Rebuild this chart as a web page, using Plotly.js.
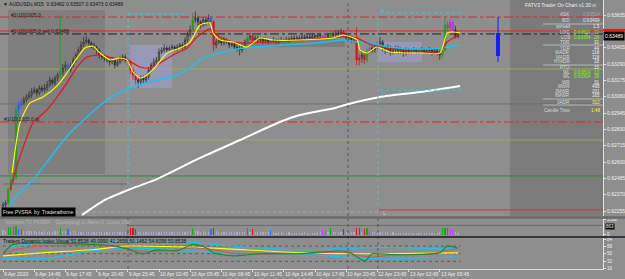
<!DOCTYPE html>
<html><head><meta charset="utf-8">
<script src="https://cdn.plot.ly/plotly-3.0.1.min.js"></script>
<style>html,body{margin:0;padding:0;background:#8e8e8e;}#chart{width:625px;height:279px;}</style>
</head><body><div id="chart"></div>
<script>
// ---------- DATA ----------
const openP = [0.62290,0.62298,0.62312,0.62403,0.62474,0.62488,0.62967,0.63002,0.63016,0.63037,
0.63058,0.63072,0.63093,0.63107,0.63086,0.63122,0.63107,0.63122,0.63143,0.63178,
0.63157,0.63192,0.63213,0.63234,0.63262,0.63283,0.63248,0.63276,0.63319,0.63354,
0.63389,0.63424,0.63445,0.63459,0.63438,0.63424,0.63410,0.63389,0.63354,0.63340,
0.63333,0.63319,0.63305,0.63319,0.63283,0.63305,0.63333,0.63340,0.63319,0.63305,
0.63248,0.63213,0.63178,0.63164,0.63192,0.63178,0.63199,0.63248,0.63283,0.63305,
0.63319,0.63375,0.63389,0.63403,0.63389,0.63403,0.63410,0.63396,0.63410,0.63424,
0.63410,0.63459,0.63495,0.63530,0.63600,0.63614,0.63586,0.63565,0.63600,0.63586,
0.63614,0.63586,0.63424,0.63445,0.63459,0.63438,0.63459,0.63445,0.63424,0.63431,
0.63410,0.63403,0.63389,0.63417,0.63445,0.63473,0.63488,0.63459,0.63473,0.63459,
0.63466,0.63452,0.63459,0.63445,0.63452,0.63459,0.63445,0.63452,0.63459,0.63452,
0.63466,0.63459,0.63473,0.63466,0.63473,0.63466,0.63481,0.63473,0.63481,0.63473,
0.63488,0.63481,0.63495,0.63488,0.63481,0.63495,0.63488,0.63502,0.63495,0.63509,
0.63502,0.63516,0.63495,0.63473,0.63481,0.63459,0.63459,0.63319,0.63333,0.63354,
0.63319,0.63375,0.63403,0.63389,0.63410,0.63424,0.63445,0.63403,0.63389,0.63410,
0.63375,0.63389,0.63403,0.63382,0.63389,0.63368,0.63389,0.63375,0.63382,0.63389,
0.63375,0.63382,0.63389,0.63375,0.63382,0.63389,0.63375,0.63382,0.63375,0.63354,
0.63389,0.63565,0.63544,0.63586,0.63530,0.63482];
const highP = [0.62320,0.62330,0.62420,0.62490,0.62530,0.62990,0.63030,0.63050,0.63060,0.63080,
0.63100,0.63120,0.63130,0.63120,0.63140,0.63140,0.63150,0.63170,0.63200,0.63190,
0.63210,0.63230,0.63635,0.63290,0.63310,0.63300,0.63300,0.63340,0.63370,0.63410,
0.63450,0.63480,0.63490,0.63470,0.63450,0.63440,0.63420,0.63400,0.63370,0.63360,
0.63350,0.63330,0.63340,0.63330,0.63330,0.63350,0.63360,0.63360,0.63340,0.63320,
0.63260,0.63230,0.63200,0.63210,0.63210,0.63220,0.63270,0.63300,0.63330,0.63340,
0.63400,0.63410,0.63430,0.63420,0.63420,0.63430,0.63420,0.63430,0.63440,0.63440,
0.63480,0.63520,0.63560,0.63650,0.63660,0.63630,0.63600,0.63620,0.63620,0.63640,
0.63630,0.63600,0.63470,0.63480,0.63470,0.63480,0.63470,0.63460,0.63450,0.63440,
0.63430,0.63420,0.63430,0.63460,0.63500,0.63510,0.63500,0.63490,0.63490,0.63480,
0.63480,0.63480,0.63470,0.63470,0.63480,0.63470,0.63470,0.63480,0.63470,0.63480,
0.63480,0.63490,0.63490,0.63490,0.63490,0.63500,0.63500,0.63500,0.63500,0.63510,
0.63500,0.63510,0.63510,0.63500,0.63510,0.63510,0.63520,0.63520,0.63530,0.63530,
0.63540,0.63530,0.63510,0.63500,0.63490,0.63480,0.63551,0.63360,0.63380,0.63370,
0.63400,0.63430,0.63420,0.63430,0.63450,0.63480,0.63460,0.63420,0.63430,0.63420,
0.63410,0.63420,0.63420,0.63410,0.63400,0.63410,0.63400,0.63400,0.63410,0.63400,
0.63400,0.63410,0.63400,0.63400,0.63410,0.63400,0.63400,0.63400,0.63390,0.63410,
0.63621,0.63590,0.63610,0.63600,0.63560,0.63507];
const lowP = [0.62250,0.62270,0.62300,0.62390,0.62440,0.62480,0.62920,0.62980,0.63000,0.63020,
0.63040,0.63050,0.63080,0.63060,0.63070,0.63090,0.63090,0.63100,0.63130,0.63140,
0.63140,0.63170,0.63190,0.63210,0.63240,0.63230,0.63230,0.63260,0.63300,0.63340,
0.63370,0.63410,0.63430,0.63420,0.63400,0.63390,0.63360,0.63330,0.63320,0.63310,
0.63300,0.63280,0.63290,0.63260,0.63270,0.63290,0.63310,0.63300,0.63280,0.63220,
0.63180,0.63150,0.63120,0.63140,0.63150,0.63160,0.63180,0.63230,0.63270,0.63290,
0.63300,0.63360,0.63370,0.63370,0.63380,0.63390,0.63380,0.63380,0.63400,0.63390,
0.63400,0.63440,0.63480,0.63520,0.63580,0.63560,0.63540,0.63550,0.63560,0.63570,
0.63560,0.63380,0.63400,0.63430,0.63420,0.63420,0.63430,0.63400,0.63410,0.63390,
0.63380,0.63350,0.63370,0.63400,0.63430,0.63460,0.63440,0.63450,0.63440,0.63440,
0.63430,0.63440,0.63430,0.63430,0.63440,0.63430,0.63430,0.63440,0.63440,0.63440,
0.63440,0.63450,0.63450,0.63450,0.63450,0.63450,0.63460,0.63460,0.63460,0.63460,
0.63470,0.63470,0.63470,0.63460,0.63470,0.63470,0.63480,0.63480,0.63480,0.63490,
0.63490,0.63480,0.63460,0.63460,0.63440,0.63440,0.63283,0.63280,0.63300,0.63290,
0.63300,0.63360,0.63370,0.63370,0.63390,0.63410,0.63380,0.63360,0.63370,0.63350,
0.63360,0.63370,0.63360,0.63360,0.63340,0.63350,0.63360,0.63360,0.63370,0.63360,
0.63360,0.63370,0.63360,0.63360,0.63370,0.63350,0.63360,0.63350,0.63320,0.63330,
0.63380,0.63520,0.63530,0.63500,0.63470,0.63473];
const closeP = [0.62298,0.62312,0.62403,0.62474,0.62488,0.62967,0.63002,0.63016,0.63037,0.63058,
0.63072,0.63093,0.63107,0.63086,0.63122,0.63107,0.63122,0.63143,0.63178,0.63157,
0.63192,0.63213,0.63234,0.63262,0.63283,0.63248,0.63276,0.63319,0.63354,0.63389,
0.63424,0.63445,0.63459,0.63438,0.63424,0.63410,0.63389,0.63354,0.63340,0.63333,
0.63319,0.63305,0.63319,0.63283,0.63305,0.63333,0.63340,0.63319,0.63305,0.63248,
0.63213,0.63178,0.63164,0.63192,0.63178,0.63199,0.63248,0.63283,0.63305,0.63319,
0.63375,0.63389,0.63403,0.63389,0.63403,0.63410,0.63396,0.63410,0.63424,0.63410,
0.63459,0.63495,0.63530,0.63600,0.63614,0.63586,0.63565,0.63600,0.63586,0.63614,
0.63586,0.63424,0.63445,0.63459,0.63438,0.63459,0.63445,0.63424,0.63431,0.63410,
0.63403,0.63389,0.63417,0.63445,0.63473,0.63488,0.63459,0.63473,0.63459,0.63466,
0.63452,0.63459,0.63445,0.63452,0.63459,0.63445,0.63452,0.63459,0.63452,0.63466,
0.63459,0.63473,0.63466,0.63473,0.63466,0.63481,0.63473,0.63481,0.63473,0.63488,
0.63481,0.63495,0.63488,0.63481,0.63495,0.63488,0.63502,0.63495,0.63509,0.63502,
0.63516,0.63495,0.63473,0.63481,0.63459,0.63459,0.63319,0.63333,0.63354,0.63319,
0.63375,0.63403,0.63389,0.63410,0.63424,0.63445,0.63403,0.63389,0.63410,0.63375,
0.63389,0.63403,0.63382,0.63389,0.63368,0.63389,0.63375,0.63382,0.63389,0.63375,
0.63382,0.63389,0.63375,0.63382,0.63389,0.63375,0.63382,0.63375,0.63354,0.63389,
0.63565,0.63544,0.63586,0.63530,0.63482,0.63489];
// PVSRA volume class per bar: n normal, g climax bull, r climax bear, b rising bull, m rising bear
const barClass = ("nnggggbbnn"+"nnnnnnnnnn"+"nngnnbnnnn"+"nnnnnnnnnn"+"nnnnnnnnmr"+
 "rrnnnnnnnn"+"nnnnnnnnnn"+"nnngnnnnnn"+"brnnnnnnnn"+"nnnngnrnnn"+
 "nnnbnnnnnn"+"nnnnnnnnnn"+"nnnmmngnnn"+"nrnnnnrrnr"+"gmnnnnnnnn"+
 "nnnnnnnnnn"+"nnnnnnnnng"+"ggmmnn").split('');
const volume = [420,380,780,760,820,900,560,540,400,380, 360,340,380,300,320,290,340,310,360,300,
330,350,720,380,340,520,300,320,340,310, 300,290,280,300,270,260,280,250,260,240,
250,230,240,260,220,240,230,250,560,680, 640,620,300,280,260,270,300,280,260,250,
300,280,260,250,240,260,230,250,240,260, 300,320,340,700,380,340,300,320,300,280,
520,720,360,300,280,260,270,250,260,240, 250,260,240,280,640,300,620,260,240,230,
220,240,230,500,220,210,230,220,200,210, 220,200,210,190,200,210,220,200,190,210,
200,220,230,480,500,260,640,250,240,260, 280,620,300,200,220,240,720,640,300,620,
680,480,260,250,230,240,260,220,230,210, 220,200,210,190,200,210,200,190,200,210,
190,200,210,200,190,210,200,190,220,650, 700,660,520,500,300,180];
const timeLabels = ["9 Apr 2020","9 Apr 14:45","9 Apr 17:45","9 Apr 20:45","9 Apr 23:45","10 Apr 02:45",
 "10 Apr 05:45","10 Apr 08:45","10 Apr 11:45","10 Apr 14:45","10 Apr 17:45","10 Apr 20:45",
 "12 Apr 23:45","13 Apr 02:45","13 Apr 05:45"];
const barsPerLabel = 12;
// moving averages (bar index, price)
const maFastX = [3.5,6.5,10.4,15.4,20.8,24.6,28.5,31.5,34.6,37.3,41.2,45,47.7,50,52.7,55.4,59.2,63.1,68.1,71.9,75.8,79.6,80.8,83.5,88.5,93.8,98.8,103.8,114.2,126.9,130.8,136.2,137.3,140,143.8,148.8,155.4,160.4,168.1,170.8,173.1,175.8];
const maFast = [0.62523,0.62875,0.63016,0.63058,0.63136,0.63227,0.63333,0.63403,0.63417,0.63368,0.63319,0.63333,0.63319,0.63234,0.63192,0.63213,0.63283,0.63368,0.63403,0.63445,0.63565,0.63579,0.63509,0.63459,0.63445,0.63410,0.63473,0.63459,0.63459,0.63473,0.63495,0.63459,0.63389,0.63368,0.63410,0.63375,0.63368,0.63368,0.63368,0.63509,0.63516,0.63509];
const maMidX = [2.7,6.5,11.5,16.9,20.8,24.6,28.5,32.3,37.3,42.3,47.7,52.7,56.5,60.4,65.4,70.8,74.6,79.6,80.8,83.5,88.5,93.8,101.5,114.2,130.8,136.2,140,145,152.7,160.4,168.1,170.8,175.8];
const maMid = [0.62403,0.62636,0.62875,0.62967,0.63058,0.63157,0.63269,0.63340,0.63354,0.63333,0.63319,0.63269,0.63262,0.63297,0.63354,0.63403,0.63481,0.63537,0.63516,0.63481,0.63445,0.63438,0.63445,0.63459,0.63481,0.63473,0.63438,0.63410,0.63389,0.63375,0.63375,0.63445,0.63502];
const maSlowX = [2.7,6.5,11.5,18.1,24.6,32.3,40,47.7,59.2,66.9,71.9,75.8,80.8,92.3,107.7,120.8,130.8,136.2,141.2,147.7,160.4,168.1,175.8];
const maSlow = [0.62298,0.62389,0.62474,0.62629,0.62782,0.62917,0.63037,0.63114,0.63178,0.63213,0.63262,0.63319,0.63354,0.63403,0.63424,0.63438,0.63459,0.63445,0.63438,0.63410,0.63396,0.63403,0.63424];
const maLongX = [30.4,39.2,48.1,58.5,75.8,91.2,106.5,114.2,127.7,131.5,145,160.4,175.8];
const maLong = [0.62227,0.62333,0.62403,0.62474,0.62629,0.62755,0.62882,0.62931,0.62981,0.63002,0.63058,0.63093,0.63136];
// horizontal levels
const fullLevels = [0.63621,0.63523,0.63502,0.63255,0.63009,0.62882,0.62755,0.62502];
const priceTicks = [0.62255,0.62370,0.62485,0.62600,0.62715,0.62830,0.62945,0.63060,0.63175,0.63290,0.63405,0.63635];
const lastPrice = 0.63489;
// higher timeframe candle drawn in the shift area
const htfIndex = 190.4, htfOpen = 0.63347, htfHigh = 0.63621, htfLow = 0.63305, htfClose = 0.63509;
// boxes [startIdx, endIdx, low, high]
const boxStart = [48.8, 144.2], boxEnd = [65, 161.2], boxLow = [0.63122, 0.63305], boxHigh = [0.63424, 0.63445];
// info panel
const panelLabels = ['ASK','BID','spread','LOC','LOS','TDR','YDR','WADR','MADR','HYADR','PTO','WL','WL','WR','MWR','3MWR','6MWR','3ADR','Candle Time'];
const panelLevels = ['','','','0.63611','0.63304','','','','','','','0.63814','0.63304','','','','','',''];
const panelValues = ['0.63514','0.63499','1.5','12','28','31','44','118','118','18','15','13','28','31','495','201','165','312','1:48'];
// TDI
const tdiGreenX = [0,3.8,14.2,34.6,41.2,47.7,53.8,59.2,66.9,73.1,78.5,80.8,88.5,98.8,114.2,129.6,133.5,136.5,139.2,141.9,148.8,160.4,168.1,170.8,175];
const tdiGreen = [50,72,75,72,70,61,50,59,57,72,63,52,45,50,50,57,52,41,32,50,48,48,52,68,63];
const tdiRedX = [0,5,14,35,45,53,62,73,80,90,115,130,137,141,150,165,171,175];
const tdiRed = [48,60,68,70,66,56,56,64,60,50,50,54,46,42,47,50,58,62];
const tdiYellowX = [0,15,35,48,70,85,115,145,175];
const tdiYellow = [45,52,60,68,66,62,52,50,52];
const tdiUpX = [0,18,48,68,88,115,145,175];
const tdiUp = [63,79,79,79,68,59,65,61];
const tdiLowX = [0,18,33,48,68,88,115,145,175];
const tdiLow = [38,40,56,63,59,50,48,38,43];
const tdiLevels = [68,50,32];
const tdiTicks = [84,68,50,32,16];

// ---------- DRAW ----------
const W = 603, H = 269; // plot area pixels
const px = x => x / W, py = y => 1 - y / H;
const FONT = 'Liberation Sans, Arial, sans-serif';
const idx = closeP.map((_, i) => i);
const classStyle = {
  n: {up: '#a0a0a0', down: '#333333', line: '#333333'},
  g: {up: '#1f9a1f', down: '#1f9a1f', line: '#1f9a1f'},
  r: {up: '#e01010', down: '#e01010', line: '#e01010'},
  b: {up: '#2060ff', down: '#2060ff', line: '#2060ff'},
  m: {up: '#c030e0', down: '#c030e0', line: '#c030e0'}
};
const volColor = {n: '#a8a8cc', g: '#20a020', r: '#e01818', b: '#3070ff', m: '#c040ff'};

const traces = [];
Object.keys(classStyle).forEach(k => {
  const sel = idx.filter(i => barClass[i] === k);
  const s = classStyle[k];
  traces.push({type: 'candlestick', x: sel, open: sel.map(i => openP[i]), high: sel.map(i => highP[i]),
    low: sel.map(i => lowP[i]), close: sel.map(i => closeP[i]), xaxis: 'x', yaxis: 'y',
    whiskerwidth: 0, hoverinfo: 'skip',
    increasing: {line: {color: s.line, width: 0.8}, fillcolor: s.up},
    decreasing: {line: {color: s.line, width: 0.8}, fillcolor: s.down}});
});
const line = (x, y, color, w, yaxis) => ({type: 'scatter', mode: 'lines', x, y, xaxis: 'x', yaxis: yaxis || 'y',
  line: {color, width: w, shape: 'spline', smoothing: 0.6}, hoverinfo: 'skip'});
traces.push(line(maLongX, maLong, '#ffffff', 2));
traces.push(line(maSlowX, maSlow, '#19c3f0', 1.5));
traces.push(line(maMidX, maMid, '#f01010', 1.2));
traces.push(line(maFastX, maFast, '#ffff00', 1.1));
// HTF candle
traces.push({type: 'scatter', mode: 'lines', x: [htfIndex, htfIndex], y: [htfLow, htfHigh], xaxis: 'x', yaxis: 'y',
  line: {color: '#1020ff', width: 1}, hoverinfo: 'skip'});
traces.push({type: 'bar', x: [htfIndex], base: [htfOpen], y: [htfClose - htfOpen], width: 1.6, xaxis: 'x', yaxis: 'y',
  marker: {color: '#1020ff', line: {width: 0}}, hoverinfo: 'skip'});
// volumes
traces.push({type: 'bar', x: idx, y: volume, xaxis: 'x', yaxis: 'y2', width: 0.5,
  marker: {color: barClass.map(c => volColor[c]), line: {width: 0}}, hoverinfo: 'skip'});
// TDI
traces.push(line(tdiUpX, tdiUp, '#19c3f0', 1.1, 'y3'));
traces.push(line(tdiLowX, tdiLow, '#19c3f0', 1.1, 'y3'));
traces.push(line(tdiYellowX, tdiYellow, '#ffff00', 1.1, 'y3'));
traces.push(line(tdiRedX, tdiRed, '#e05050', 1, 'y3'));
traces.push(line(tdiGreenX, tdiGreen, '#1f8a1f', 1.1, 'y3'));

const shapes = [];
const rect = (x0, x1, y0, y1, fill, xref, yref, layer) => shapes.push({type: 'rect', xref, yref, x0, x1, y0, y1,
  fillcolor: fill, line: {width: 0}, layer: layer || 'below'});
const hl = (y, x0, x1, color, dash, w, xref, yref, layer) => shapes.push({type: 'line', xref, yref, x0, x1, y0: y, y1: y,
  line: {color, dash: dash || 'solid', width: w || 1}, layer: layer || 'above'});
const vl = (x, y0, y1, color, dash, w, xref, yref) => shapes.push({type: 'line', xref, yref, x0: x, x1: x, y0, y1,
  line: {color, dash: dash || 'solid', width: w || 1}, layer: 'above'});
// background regions
rect(px(8), px(105), py(174), py(10), '#7f7f7f', 'paper', 'paper');
rect(px(510), 1, py(216), 1, '#7b7b7b', 'paper', 'paper');
rect(93, 131.5, 0.63410, 0.63466, '#7d7d7d', 'x', 'y');
boxStart.forEach((s, k) => rect(s, boxEnd[k], boxLow[k], boxHigh[k], 'rgba(160,160,215,0.55)', 'x', 'y'));
// levels
const lvlStyle = [['#e02828', 'dashdot'], ['#e02828', 'solid'], ['#202020', 'dashdot'], ['#a9a75e', 'solid'],
  ['#6e6e6e', 'solid'], ['#e02828', 'dashdot'], ['#a9a75e', 'solid'], ['#2e8b2e', 'solid']];
fullLevels.forEach((v, k) => hl(v, 0, 1, lvlStyle[k][0], lvlStyle[k][1], 1, 'paper', 'y', 'below'));
hl(0.62446, px(3), px(127), '#6a6a6a', 'solid', 1, 'paper', 'y', 'below');
hl(0.62263, 144.2, 230.8, '#e03030', 'solid', 1, 'x', 'y', 'below');
hl(0.62248, 0, 144.2, '#b0b080', 'dot', 1, 'x', 'y', 'below');
// session markers (cyan dotted)
vl(48.1, 0.62446, 0.63642, '#30d0e0', 'dot', 1, 'x', 'y');
hl(0.63642, 48.1, 70, '#30d0e0', 'dot', 1, 'x', 'y');
hl(0.63649, 145, 176, '#30d0e0', 'dot', 1, 'x', 'y');
hl(0.63107, 145, 176, '#30d0e0', 'dot', 1, 'x', 'y');
// period separators
[48.1, 132.7, 144.2].forEach(x => vl(x, 0, py(216), '#5a5a5a', 'dot', 1, 'x', 'paper'));
vl(132.7, py(216), 1, '#5a5a5a', 'dot', 1, 'x', 'paper');
vl(144.2, 0.62248, 0.63649, '#30d0e0', 'dot', 1, 'x', 'y');
// pane separators
hl(py(217.5), 0, 625 / W, '#6a6a6a', 'solid', 2.5, 'paper', 'paper');
hl(py(237), 0, 625 / W, '#1a1a1a', 'solid', 1.5, 'paper', 'paper');
hl(940, 48, 230.8, '#6a6a6a', 'solid', 1, 'x', 'y2', 'below');
// TDI levels
tdiLevels.forEach(v => hl(v, 0, 176, '#5c5c5c', 'dot', 1, 'x', 'y3', 'below'));
// price marker at axis
hl(0.63530, 1, 625 / W, '#ff1010', 'solid', 2, 'paper', 'y');
// right panel separators
[24, 45, 65, 99, 105].forEach(y => hl(py(y), px(543), 1, '#b8b8b8', 'solid', 1, 'paper', 'paper'));

const ann = [];
const txt = (x, y, text, color, anchor, extra, size) => ann.push(Object.assign({xref: 'paper', yref: 'paper', x: px(x), y: py(y),
  text, showarrow: false, xanchor: anchor || 'left', yanchor: 'middle', borderpad: 0,
  font: {family: FONT, size: size || 5, color: color || '#f0f0f0'}}, extra || {}));
txt(2, 4, '\u25BC AUDUSDc,M15  0.63482 0.63507 0.63473 0.63489', '#111111');
txt(10, 15, '#1(10)1005.0', '#1a1a1a');
txt(10, 31, '#1(10)1005.0 sell 0.63488', '#1a1a1a');
txt(3, 119, '#1(10)1005.0 tp', '#1a1a1a');
txt(1, 212, 'Free PVSRA  by  Traderathome', '#e8e8c8', 'left', {bgcolor: '#000000', borderpad: 1});
txt(380, 11, 'H', '#30d0e0');
txt(381, 94, 'L', '#30d0e0');
txt(382, 213, 'L', '#d0d0d0');
// right panel rows
txt(597, 5, 'FATV3 Trader On Chart v1.30 \u2299', '#f0f0f0', 'right');
const rowY = [15, 20, 27, 32.5, 37, 42, 48, 52.5, 57, 61.5, 68, 72.5, 77, 82, 86.5, 91, 95.5, 102, 110];
const lvlColor = ['#a8a8a8','#e8e8e8','#f0f0f0','#7cfc00','#7cfc00','#f0f0f0','#f0f0f0','#f0f0f0','#f0f0f0','#f0f0f0',
  '#f0f0f0','#7cfc00','#7cfc00','#f0f0f0','#f0f0f0','#f0f0f0','#f0f0f0','#ffff00','#ffff00'];
panelLabels.forEach((t, k) => {
  txt(571, rowY[k], t, '#d8d8d8', 'right', null, 4.6);
  if (panelLevels[k]) txt(573, rowY[k], panelLevels[k], lvlColor[k], 'left', null, 4.6);
  txt(601, rowY[k], panelValues[k], lvlColor[k], 'right', null, 4.6);
});
// time labels
timeLabels.forEach((t, k) => ann.push({xref: 'x', yref: 'paper', x: k * barsPerLabel, y: 0, yshift: -1, text: t, showarrow: false,
  xanchor: 'left', yanchor: 'top', borderpad: 0, font: {family: FONT, size: 5, color: '#f0f0f0'}}));
// last price tag
ann.push({xref: 'paper', yref: 'y', x: 1, y: lastPrice, text: lastPrice.toFixed(5), showarrow: false, xanchor: 'left', yanchor: 'middle',
  bgcolor: '#000000', borderpad: 1, font: {family: FONT, size: 5, color: '#ffffff'}});
ann.push({xref: 'paper', yref: 'y2', x: 1, y: 863, text: '863', showarrow: false, xanchor: 'left', yanchor: 'middle', xshift: 2,
  bgcolor: '#000000', borderpad: 0, font: {family: FONT, size: 4.5, color: '#ffffff'}});
txt(4, 222, 'Volumes TV PVSRA    Count(avg) 1: Alerts 0, Count 100', '#b4b4b4');
txt(2, 240.5, 'Traders Dynamic Index Visual 50.8538 49.0990 41.2658 50.1462 54.6056 50.8538', '#111111');

const axFont = {family: FONT, size: 5, color: '#f0f0f0'};
const axFontS = {family: FONT, size: 4.5, color: '#f0f0f0'};
const layout = {
  width: 625, height: 279, margin: {l: 0, r: 22, t: 0, b: 10, pad: 0},
  paper_bgcolor: '#8e8e8e', plot_bgcolor: '#8e8e8e', showlegend: false, bargap: 0,
  xaxis: {range: [-1.154, 230.77], anchor: 'y3', showgrid: false, zeroline: false, showticklabels: false,
    tickvals: timeLabels.map((_, k) => k * barsPerLabel), ticks: 'outside', ticklen: 2, tickcolor: '#e0e0e0',
    showline: true, linecolor: '#e0e0e0', linewidth: 1, rangeslider: {visible: false}, fixedrange: true},
  yaxis: {domain: [py(216), 1], range: [0.62220, 0.63741], side: 'right', anchor: 'x', showgrid: false, zeroline: false,
    tickvals: priceTicks, ticktext: priceTicks.map(v => v.toFixed(5)), tickfont: axFont, ticks: 'outside', ticklen: 2,
    tickcolor: '#e0e0e0', showline: true, linecolor: '#e0e0e0', fixedrange: true},
  yaxis2: {domain: [py(236), py(219)], range: [-150, 1600], side: 'right', anchor: 'x', showgrid: false, zeroline: false,
    tickvals: [0, 1532], tickfont: axFontS, ticks: 'outside', ticklen: 2, tickcolor: '#e0e0e0', showline: true, linecolor: '#e0e0e0', fixedrange: true},
  yaxis3: {domain: [0, py(238)], range: [14, 87], side: 'right', anchor: 'x', showgrid: false, zeroline: false,
    tickvals: tdiTicks, tickfont: axFontS, ticks: 'outside', ticklen: 2, tickcolor: '#e0e0e0', showline: true, linecolor: '#e0e0e0', fixedrange: true},
  shapes, annotations: ann
};
Plotly.newPlot('chart', traces, layout, {staticPlot: true, displayModeBar: false});
</script></body></html>
